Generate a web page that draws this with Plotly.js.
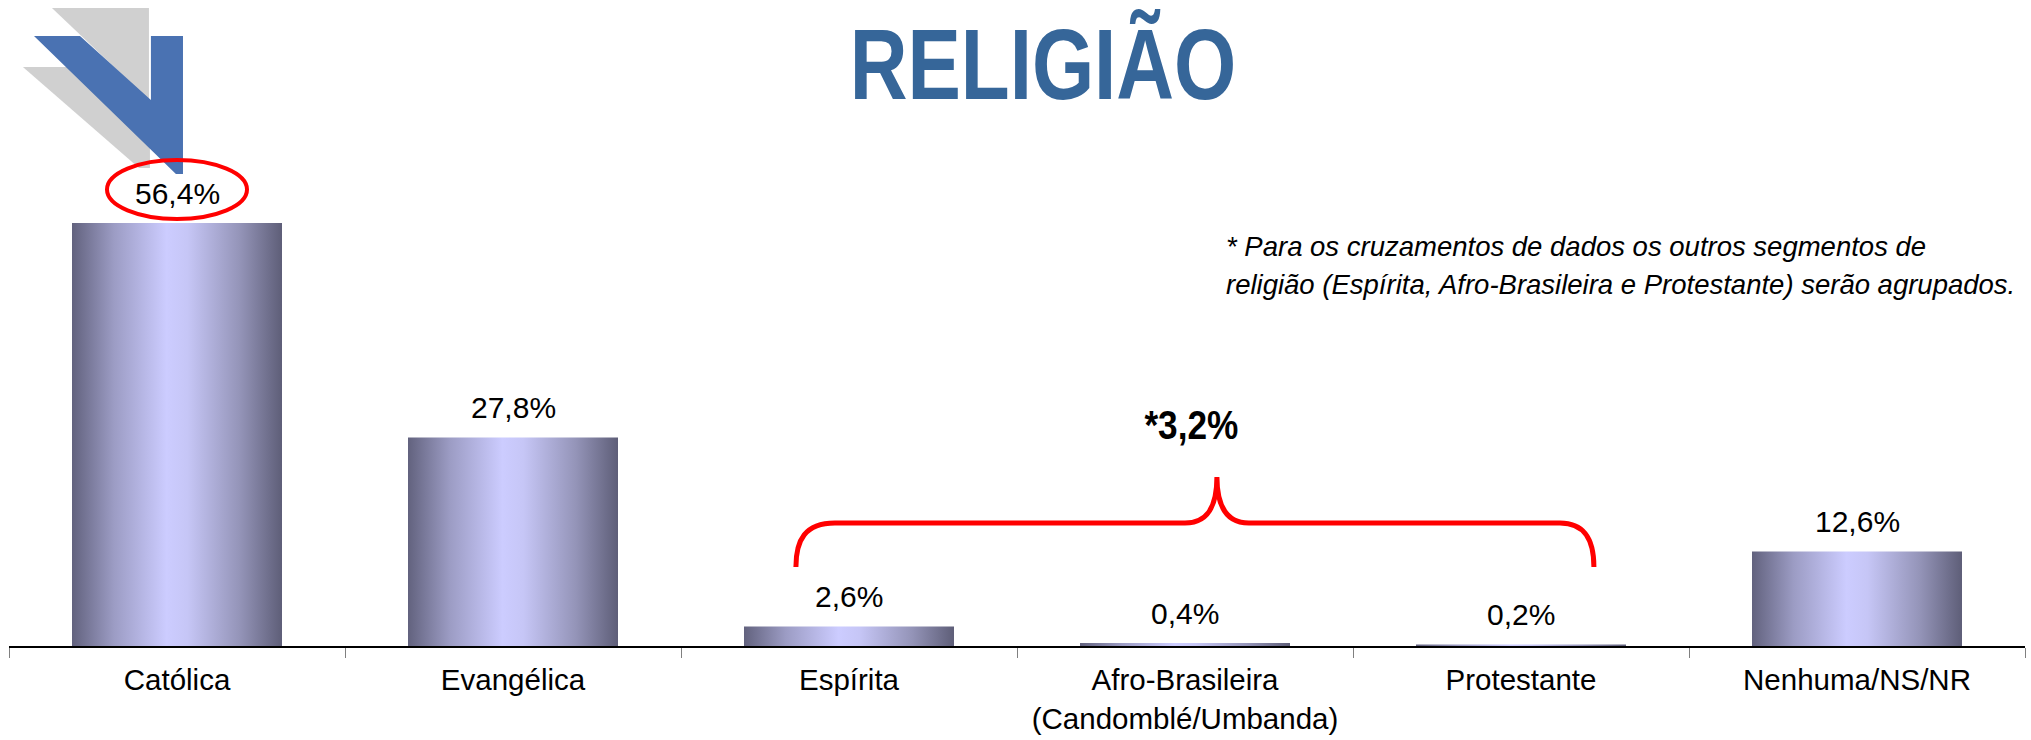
<!DOCTYPE html>
<html>
<head>
<meta charset="utf-8">
<script src="https://cdn.plot.ly/plotly-3.0.1.min.js"></script>
<style>
  body { margin: 0; background: #fff; }
  #chart { width: 2031px; height: 740px; }
</style>
</head>
<body>
<div id="chart"></div>
<script>
// categories and values
const religions = ["Católica", "Evangélica", "Espírita", "Afro-Brasileira<br>(Candomblé/Umbanda)", "Protestante", "Nenhuma/NS/NR"];
const shares = [56.4, 27.8, 2.6, 0.4, 0.2, 12.6];
const groupedShare = 3.2;
const noteLines = [
  "* Para os cruzamentos de dados os outros segmentos de",
  "religião (Espírita, Afro-Brasileira e Protestante) serão agrupados."
];

const W = 2031, H = 740;
const mL = 9, mR = 6, mT = 100, mB = 94;
const plotW = W - mL - mR, plotH = H - mT - mB;

function pct(v) {
  return v.toFixed(1).replace(".", ",") + "%";
}

// pixel -> paper helper for the logo in the corner
function pp(px, py) {
  return ((px - mL) / plotW).toFixed(4) + "," + ((H - mB - py) / plotH).toFixed(4);
}
function poly(points) {
  return "M " + points.map(p => pp(p[0], p[1])).join(" L ") + " Z";
}

const sans = "Liberation Sans, Arial, sans-serif";

const barTrace = {
  type: "bar",
  x: religions,
  y: shares,
  width: 0.625,
  marker: { color: "#a8a8d8", line: { width: 0 } },
  hoverinfo: "none"
};

const valueNotes = religions.map((r, i) => ({
  x: r, y: shares[i], xref: "x", yref: "y",
  text: pct(shares[i]),
  showarrow: false, yanchor: "middle", yshift: 30,
  font: { family: sans, size: 30, color: "#000" }
}));

// curly bracket over the three small groups (data coords)
const brace = "M 1.842,10.53 C 1.842,14.13 1.869,16.4 1.958,16.4 L 3.0,16.4 " +
  "C 3.06,16.4 3.095,18.13 3.095,22.53 C 3.095,18.13 3.131,16.4 3.19,16.4 " +
  "L 4.116,16.4 C 4.19,16.4 4.217,14.13 4.217,10.53";

const shapes = [
  // logo: grey back chevrons and blue front
  { type: "path", xref: "paper", yref: "paper", layer: "above",
    path: poly([[52, 8], [149, 8], [149, 100]]),
    fillcolor: "#d0d0d0", line: { width: 0 } },
  { type: "path", xref: "paper", yref: "paper", layer: "above",
    path: poly([[23, 67], [72, 67], [150, 140], [150, 168], [139, 168]]),
    fillcolor: "#d0d0d0", line: { width: 0 } },
  { type: "path", xref: "paper", yref: "paper", layer: "above",
    path: poly([[34, 36], [80, 36], [151, 100], [151, 36], [183, 36], [183, 174], [176, 174]]),
    fillcolor: "#4a72b2", line: { width: 0 } },
  // red ellipse round the first value
  { type: "circle", xref: "x", yref: "y",
    xsizemode: "pixel", xanchor: religions[0], x0: -70, x1: 70,
    ysizemode: "pixel", yanchor: shares[0], y0: 4, y1: 63,
    line: { color: "#ff0000", width: 4 } },
  { type: "path", xref: "x", yref: "y", path: brace,
    line: { color: "#ff0000", width: 5 } }
];

const noteX = (1224 - mL) / plotW;
const annotations = valueNotes.concat([
  { x: 3.02, y: 29.5, xref: "x", yref: "y", text: "<b>*" + pct(groupedShare) + "</b>",
    showarrow: false, xanchor: "center", yanchor: "middle",
    font: { family: sans, size: 40, color: "#000" } },
  { x: noteX, y: (H - mB - 246) / plotH, xref: "paper", yref: "paper", text: "<i>" + noteLines[0] + "</i>",
    showarrow: false, xanchor: "left", yanchor: "middle", align: "left",
    font: { family: sans, size: 27.5, color: "#000" } },
  { x: noteX, y: (H - mB - 284) / plotH, xref: "paper", yref: "paper", text: "<i>" + noteLines[1] + "</i>",
    showarrow: false, xanchor: "left", yanchor: "middle", align: "left",
    font: { family: sans, size: 27.5, color: "#000" } }
]);

const layout = {
  width: W, height: H,
  margin: { l: mL, r: mR, t: mT, b: mB },
  paper_bgcolor: "#fff", plot_bgcolor: "#fff",
  showlegend: false, hovermode: false,
  title: {
    text: "<b>RELIGIÃO</b>",
    xref: "container", yref: "container",
    x: 1043 / W, xanchor: "center",
    y: 1 - 64 / H, yanchor: "middle",
    font: { family: sans, size: 100, color: "#366699" }
  },
  xaxis: {
    type: "category",
    tickson: "boundaries",
    ticks: "outside", ticklen: 10, tickwidth: 1, tickcolor: "#808080",
    ticklabelstandoff: 7,
    showline: true, linecolor: "#000", linewidth: 2,
    showgrid: false,
    tickfont: { family: sans, size: 29.5, color: "#000" },
    range: [-0.5, 5.5],
    fixedrange: true
  },
  yaxis: { visible: false, range: [0, plotH / 7.5], fixedrange: true },
  shapes: shapes,
  annotations: annotations
};

// narrow a text element around its own centre (slide uses a condensed face)
function squeeze(el, s) {
  if (!el) return;
  const b = el.getBBox();
  const cx = b.x + b.width / 2;
  const prev = el.getAttribute("transform") || "";
  el.setAttribute("transform", prev + " translate(" + cx + ",0) scale(" + s + ",1) translate(" + (-cx) + ",0)");
}

Plotly.newPlot("chart", [barTrace], layout, { displayModeBar: false, staticPlot: true }).then(gd => {
  // bars in the slide have a cylinder-like horizontal gradient
  const svgNS = "http://www.w3.org/2000/svg";
  const defs = gd.querySelector(".main-svg defs");
  const grad = document.createElementNS(svgNS, "linearGradient");
  grad.setAttribute("id", "barGrad");
  grad.setAttribute("x1", "0"); grad.setAttribute("x2", "1");
  grad.setAttribute("y1", "0"); grad.setAttribute("y2", "0");
  [["0", "#62627e"], ["0.2", "#9c9cc4"], ["0.45", "#ccccff"], ["0.55", "#c6c6f6"], ["0.8", "#9494b8"], ["1", "#5e5e78"]]
    .forEach(s => {
      const stop = document.createElementNS(svgNS, "stop");
      stop.setAttribute("offset", s[0]);
      stop.setAttribute("stop-color", s[1]);
      grad.appendChild(stop);
    });
  defs.appendChild(grad);
  gd.querySelectorAll(".trace.bars .point path").forEach(p => {
    p.style.fill = "url(#barGrad)";
  });

  squeeze(gd.querySelector(".g-gtitle .gtitle"), 0.8);
  squeeze(gd.querySelector('.annotation[data-index="6"] .annotation-text'), 0.88);
});
</script>
</body>
</html>
